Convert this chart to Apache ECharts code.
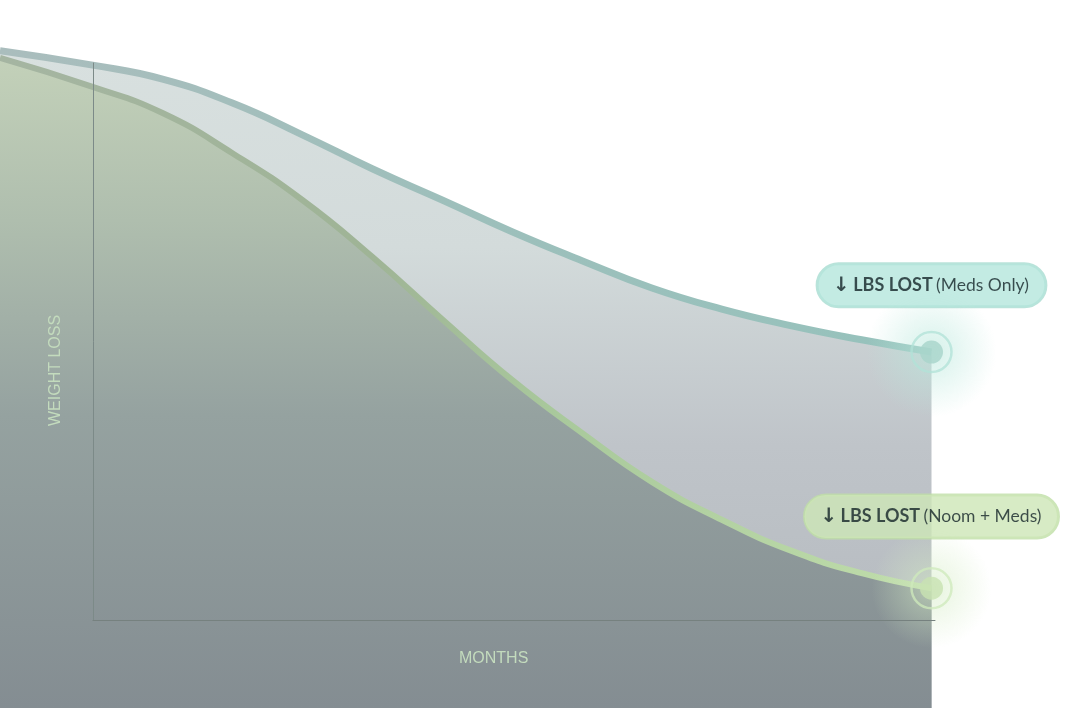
<!DOCTYPE html>
<html>
<head>
<meta charset="utf-8">
<style>
html,body{margin:0;padding:0;background:#ffffff;}
#chart{width:1080px;height:708px;}
</style>
<script src="https://cdn.jsdelivr.net/npm/echarts@6/dist/echarts.min.js"></script>
</head>
<body>
<div id="chart"></div>
<script>
// Months along the x axis (first point sits left of the axis origin)
const months = [-1.325, 0, 1, 2, 3, 4, 5, 6, 7, 8, 9, 10, 11, 12];
// Relative weight index (100 = top of axis, 0 = axis baseline)
const medsOnly = [102.2, 99.6, 97.1, 92.8, 87.1, 81.0, 75.4, 69.7, 64.5, 59.6, 55.8, 52.8, 50.3, 48.1];
const noomMeds = [100.9, 95.7, 91.0, 83.8, 75.4, 65.2, 54.0, 43.1, 33.6, 24.8, 18.0, 12.4, 8.4, 5.7];
const seriesNames = ['Meds Only', 'Noom + Meds'];
const axisNames = ['MONTHS', 'WEIGHT LOSS'];
const badgeMain = 'LBS LOST';

const pairs = (xs, ys) => xs.map((x, i) => [x, ys[i]]);
const last = (xs, ys) => [xs[xs.length - 1], ys[ys.length - 1]];

const chart = echarts.init(document.getElementById('chart'), null, {renderer: 'canvas'});

function badge(name, bg, border, dist) {
  return {
    show: true,
    position: 'top',
    distance: dist,
    formatter: '{a|↓} {b|' + badgeMain + '} {c|(' + name + ')}',
    backgroundColor: bg,
    borderColor: border,
    borderWidth: 1.5,
    borderRadius: 22,
    padding: [11, 17, 11, 16],
    rich: {
      a: {fontFamily: 'DejaVu Sans', fontWeight: 'bold', fontSize: 20, color: '#142428', lineHeight: 21},
      b: {fontFamily: 'Lato', fontWeight: 'bold', fontSize: 18, color: '#142428', lineHeight: 21},
      c: {fontFamily: 'Lato', fontWeight: 'normal', fontSize: 17.5, color: '#142428', lineHeight: 21}
    }
  };
}

function glow(rgb, a) {
  return new echarts.graphic.RadialGradient(0.5, 0.5, 0.5, [
    {offset: 0, color: 'rgba(' + rgb + ',' + a + ')'},
    {offset: 0.45, color: 'rgba(' + rgb + ',' + (a * 0.55) + ')'},
    {offset: 1, color: 'rgba(' + rgb + ',0)'}
  ]);
}

const option = {
  animation: false,
  grid: [
    {left: 0, top: 0, right: 145, bottom: 0},
    {left: 93, top: 63, width: 842, height: 557}
  ],
  xAxis: [
    {gridIndex: 0, type: 'value', min: -1.325, max: 12.05, show: false},
    {gridIndex: 1, type: 'value', min: 0, max: 12, z: 10,
     axisLine: {show: true, lineStyle: {color: '#76817f', width: 1}},
     axisTick: {show: false}, axisLabel: {show: false}, splitLine: {show: false}}
  ],
  yAxis: [
    {gridIndex: 0, type: 'value', min: -15.8, max: 111.3, show: false},
    {gridIndex: 1, type: 'value', min: 0, max: 100, z: 10,
     axisLine: {show: true, lineStyle: {color: '#7c8a88', width: 1}},
     axisTick: {show: false}, axisLabel: {show: false}, splitLine: {show: false}}
  ],
  graphic: [
    {type: 'text', left: 459, top: 651, z: 20,
     style: {text: axisNames[0], fill: '#c3dbbd', font: '16px "Liberation Sans", Arial, sans-serif'}},
    {type: 'text', x: 48, y: 426, rotation: Math.PI / 2, z: 20,
     style: {text: axisNames[1], fill: '#c3dbbd', font: '16px "Liberation Sans", Arial, sans-serif'}}
  ],
  series: [
    {
      name: seriesNames[0], type: 'line', xAxisIndex: 0, yAxisIndex: 0,
      data: pairs(months, medsOnly), smooth: 0.5, symbol: 'none', z: 2,
      lineStyle: {width: 7, color: new echarts.graphic.LinearGradient(0, 0, 1, 0, [
        {offset: 0, color: '#aabdbd'}, {offset: 0.5, color: '#9dbfbb'}, {offset: 1, color: '#96c2bc'}])},
      areaStyle: {origin: 'start', opacity: 1, color: new echarts.graphic.LinearGradient(0, 0, 0, 1, [
        {offset: 0, color: '#d8e0df'}, {offset: 0.3, color: '#d3dbdb'}, {offset: 0.6, color: '#bfc4c9'}, {offset: 1, color: '#b3b8bd'}])}
    },
    {
      name: seriesNames[1], type: 'line', xAxisIndex: 0, yAxisIndex: 0,
      data: pairs(months, noomMeds), smooth: 0.5, symbol: 'none', z: 3,
      lineStyle: {width: 6, color: new echarts.graphic.LinearGradient(0, 0, 1, 0, [
        {offset: 0, color: '#a5b5a2'}, {offset: 0.4, color: '#9fb496'}, {offset: 0.6, color: '#a9c99c'}, {offset: 1, color: '#c0ddab'}])},
      areaStyle: {origin: 'start', opacity: 1, color: new echarts.graphic.LinearGradient(0, 0, 0, 1, [
        {offset: 0, color: '#c3d1b9'}, {offset: 0.25, color: '#afbeae'}, {offset: 0.55, color: '#95a2a0'}, {offset: 1, color: '#848d92'}])}
    },
    // glows
    {
      type: 'scatter', xAxisIndex: 0, yAxisIndex: 0, clip: false, z: 4, silent: true,
      data: [last(months, medsOnly)], symbolSize: 130,
      itemStyle: {color: glow('185,232,220', 0.75)}
    },
    {
      type: 'scatter', xAxisIndex: 0, yAxisIndex: 0, clip: false, z: 4, silent: true,
      data: [last(months, noomMeds)], symbolSize: 120,
      itemStyle: {color: glow('212,236,196', 0.7)}
    },
    // rings + labels
    {
      type: 'scatter', xAxisIndex: 0, yAxisIndex: 0, clip: false, z: 6,
      data: [last(months, medsOnly)], symbolSize: 40,
      itemStyle: {color: 'rgba(255,255,255,0)', borderColor: 'rgba(178,226,216,0.95)', borderWidth: 2.5},
      label: badge(seriesNames[0], '#b4e6dc', '#a7dcd1', 24)
    },
    {
      type: 'scatter', xAxisIndex: 0, yAxisIndex: 0, clip: false, z: 6,
      data: [last(months, noomMeds)], symbolSize: 40,
      itemStyle: {color: 'rgba(255,255,255,0)', borderColor: 'rgba(206,234,188,0.95)', borderWidth: 2.5},
      label: badge(seriesNames[1], '#cde6b6', '#bfdfa6', 29)
    },
    // dots
    {
      type: 'scatter', xAxisIndex: 0, yAxisIndex: 0, clip: false, z: 7, silent: true,
      data: [last(months, medsOnly)], symbolSize: 23,
      itemStyle: {color: '#a7d4cb'}
    },
    {
      type: 'scatter', xAxisIndex: 0, yAxisIndex: 0, clip: false, z: 7, silent: true,
      data: [last(months, noomMeds)], symbolSize: 23,
      itemStyle: {color: '#c8e2b2'}
    }
  ]
};
chart.setOption(option);
</script>
</body>
</html>
